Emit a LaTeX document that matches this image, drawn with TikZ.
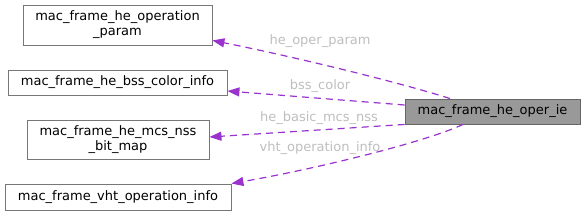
\documentclass[tikz,border=0pt]{standalone}
\usepackage{fontspec}
\setmainfont{DejaVu Sans}
\definecolor{dxpurple}{RGB}{154,50,205}
\definecolor{dxgray}{RGB}{153,153,153}
\definecolor{dxedge}{RGB}{119,119,119}
\definecolor{dxlabel}{RGB}{190,190,190}
\usetikzlibrary{arrows.meta}

\begin{document}
\begin{tikzpicture}[x=1pt,y=-1pt,font=\fontsize{13}{15}\selectfont,
  cls/.style={draw=dxedge,fill=white,line width=0.9pt,align=center,inner sep=0pt,minimum height=25pt},
  rel/.style={draw=dxpurple,line width=1.2pt,dash pattern=on 7pt off 5pt,-{Triangle[length=12pt,width=9pt]}},
  lbl/.style={text=dxlabel,inner sep=0pt}]
  \useasboundingbox (0,0) rectangle (585,215);
  % classes
  \node[cls,minimum width=189pt,minimum height=40pt] (op) at (117.5,25) {mac\_frame\_he\_operation\\\_param};
  \node[cls,minimum width=219pt] (bss) at (117.5,82.5) {mac\_frame\_he\_bss\_color\_info};
  \node[cls,minimum width=182pt,minimum height=39pt] (mcs) at (118,139.5) {mac\_frame\_he\_mcs\_nss\\\_bit\_map};
  \node[cls,minimum width=226pt,minimum height=26pt] (vht) at (118,197) {mac\_frame\_vht\_operation\_info};
  \node[cls,draw=gray!80!black,fill=dxgray,minimum width=175pt] (ie) at (492.5,111.5) {mac\_frame\_he\_oper\_ie};
  % members
  \draw[rel] ([xshift=-42.5pt]ie.north) .. controls (405,84) and (300,58) .. ([yshift=5pt]op.south east);
  \draw[rel] ([yshift=6.5pt]ie.west) -- ([yshift=-8.5pt]bss.east);
  \draw[rel] (ie.south west) -- ([yshift=2.5pt]mcs.east);
  \draw[rel] ([xshift=-29.5pt]ie.south) .. controls (425,142) and (320,168) .. (vht.north east);
  \node[lbl] (lop) at (320,41) {he\_oper\_param};
  \node[lbl] (lbss) at (320,86) {bss\_color};
  \node[lbl] (lmcs) at (319,118) {he\_basic\_mcs\_nss};
  \node[lbl] (lvht) at (320,148) {vht\_operation\_info};
\end{tikzpicture}
\end{document}
